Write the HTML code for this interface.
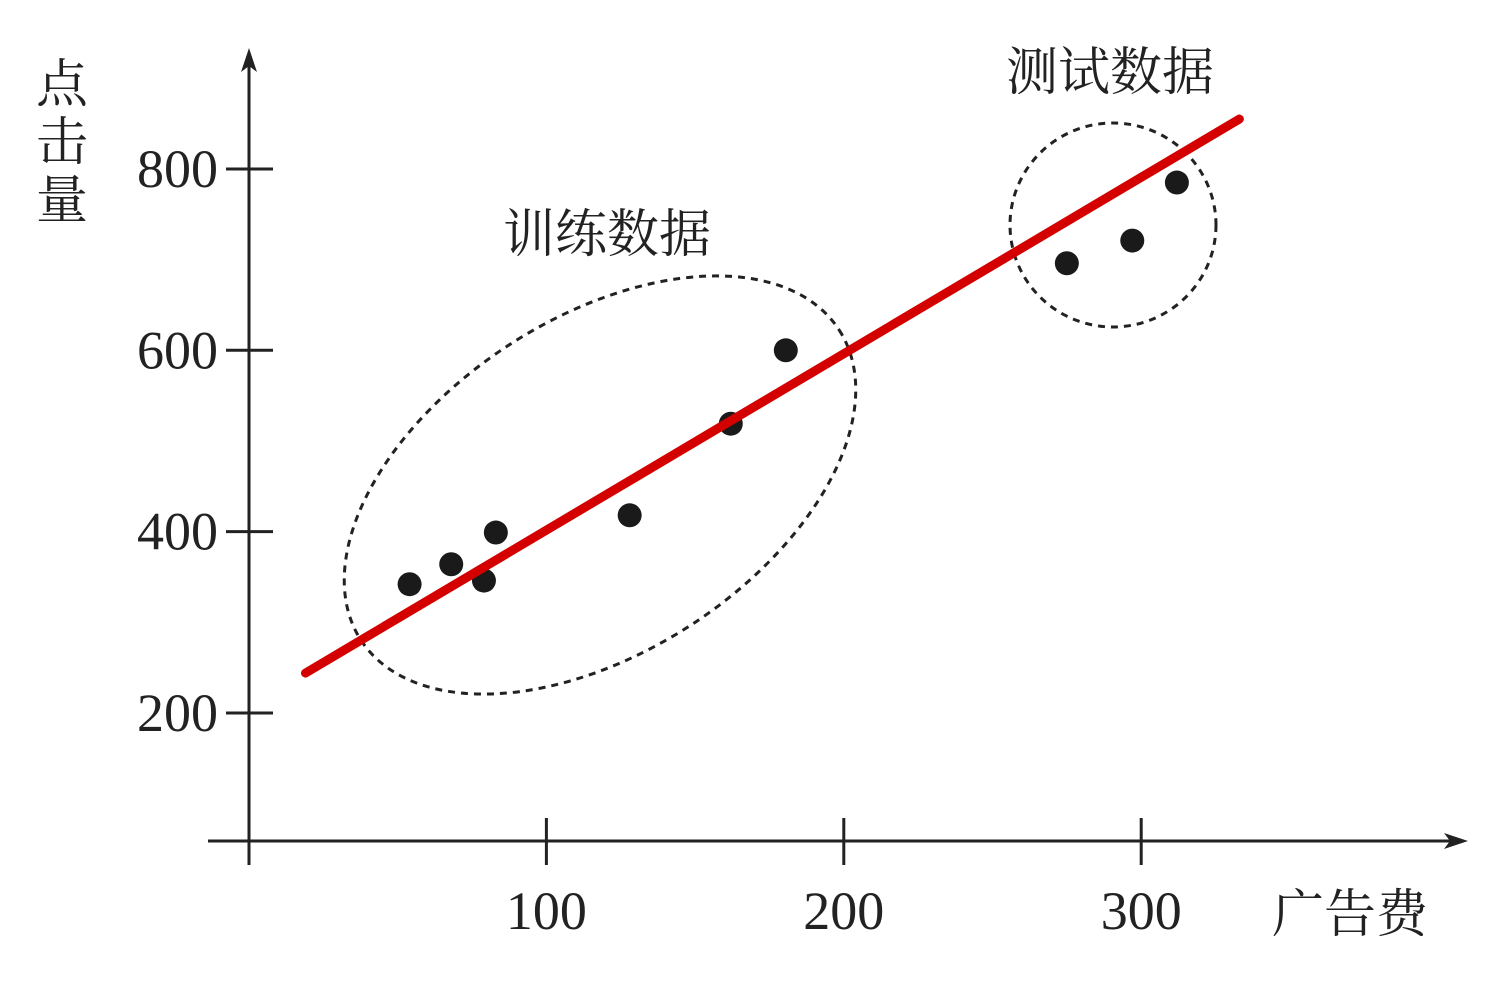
<!DOCTYPE html>
<html><head><meta charset="utf-8"><style>
body{margin:0;background:#fff;}
svg text{font-family:"Liberation Serif","Noto Serif CJK SC",serif;fill:#222;}
</style></head><body>
<svg width="1510" height="990" xmlns="http://www.w3.org/2000/svg" id="chart">
<g stroke="#222" stroke-width="3" fill="none">
<line x1="249" y1="865" x2="249" y2="55"/>
<line x1="208" y1="841" x2="1460" y2="841"/>
<path d="M241,72 L249,48 L257,72 L249,66 Z" fill="#222" stroke="none"/>
<path d="M1444,833 L1468,841 L1444,849 L1450,841 Z" fill="#222" stroke="none"/>
</g>
<g id="ticks"></g>
<ellipse cx="600" cy="485" rx="285" ry="167" transform="rotate(-33 600 485)" fill="none" stroke="#222" stroke-width="3" stroke-dasharray="7 6"/>
<ellipse cx="1113" cy="225" rx="103" ry="102" fill="none" stroke="#222" stroke-width="3" stroke-dasharray="7 6"/>
<g id="points"></g>
<line id="fit" stroke="#d40000" stroke-width="9" stroke-linecap="round"/>
<text x="607" y="252" font-size="52" text-anchor="middle">训练数据</text>
<text x="1110" y="90" font-size="52" text-anchor="middle">测试数据</text>
<text x="1350" y="932" font-size="52" text-anchor="middle">广告费</text>
<g font-size="52" text-anchor="middle">
<text x="62" y="102">点</text><text x="62" y="160">击</text><text x="62" y="218">量</text>
</g>
</svg>
<script>
const xTicks=[100,200,300];
const yTicks=[200,400,600,800];
const xVals=[54,68,79,83,128,162,180.5,275,297,312];
const yVals=[342,364,346,399,418,519,600,696,721,785];
const lineX=[19,333];
const lineY=[244,855];
const X=v=>249+v*2.974, Y=v=>894.3-v*0.9067;
const ns="http://www.w3.org/2000/svg";
const tg=document.getElementById('ticks');
xTicks.forEach(t=>{
 const l=document.createElementNS(ns,'line');
 
 
 l.setAttribute('x1',X(t));l.setAttribute('x2',X(t));l.setAttribute('y1',818);l.setAttribute('y2',865);
 l.setAttribute('stroke','#222');l.setAttribute('stroke-width',3);tg.appendChild(l);
 const s=document.createElementNS(ns,'text');
 
 
 s.setAttribute('x',X(t));s.setAttribute('y',929);s.setAttribute('font-size',54);s.setAttribute('text-anchor','middle');
 s.textContent=t;tg.appendChild(s);
});
yTicks.forEach(t=>{
 const l=document.createElementNS(ns,'line');
 
 
 l.setAttribute('x1',226);l.setAttribute('x2',273);l.setAttribute('y1',Y(t));l.setAttribute('y2',Y(t));
 l.setAttribute('stroke','#222');l.setAttribute('stroke-width',3);tg.appendChild(l);
 const s=document.createElementNS(ns,'text');
 
 
 s.setAttribute('x',218);s.setAttribute('y',Y(t)+18);s.setAttribute('font-size',54);s.setAttribute('text-anchor','end');
 s.textContent=t;tg.appendChild(s);
});
const pg=document.getElementById('points');
xVals.forEach((x,i)=>{
 const c=document.createElementNS(ns,'circle');
 
 
 c.setAttribute('cx',X(x));c.setAttribute('cy',Y(yVals[i]));c.setAttribute('r',12);c.setAttribute('fill','#1a1a1a');
 pg.appendChild(c);
});
const f=document.getElementById('fit');
f.setAttribute('x1',X(lineX[0]));f.setAttribute('y1',Y(lineY[0]));
f.setAttribute('x2',X(lineX[1]));f.setAttribute('y2',Y(lineY[1]));
</script>
</body></html>
